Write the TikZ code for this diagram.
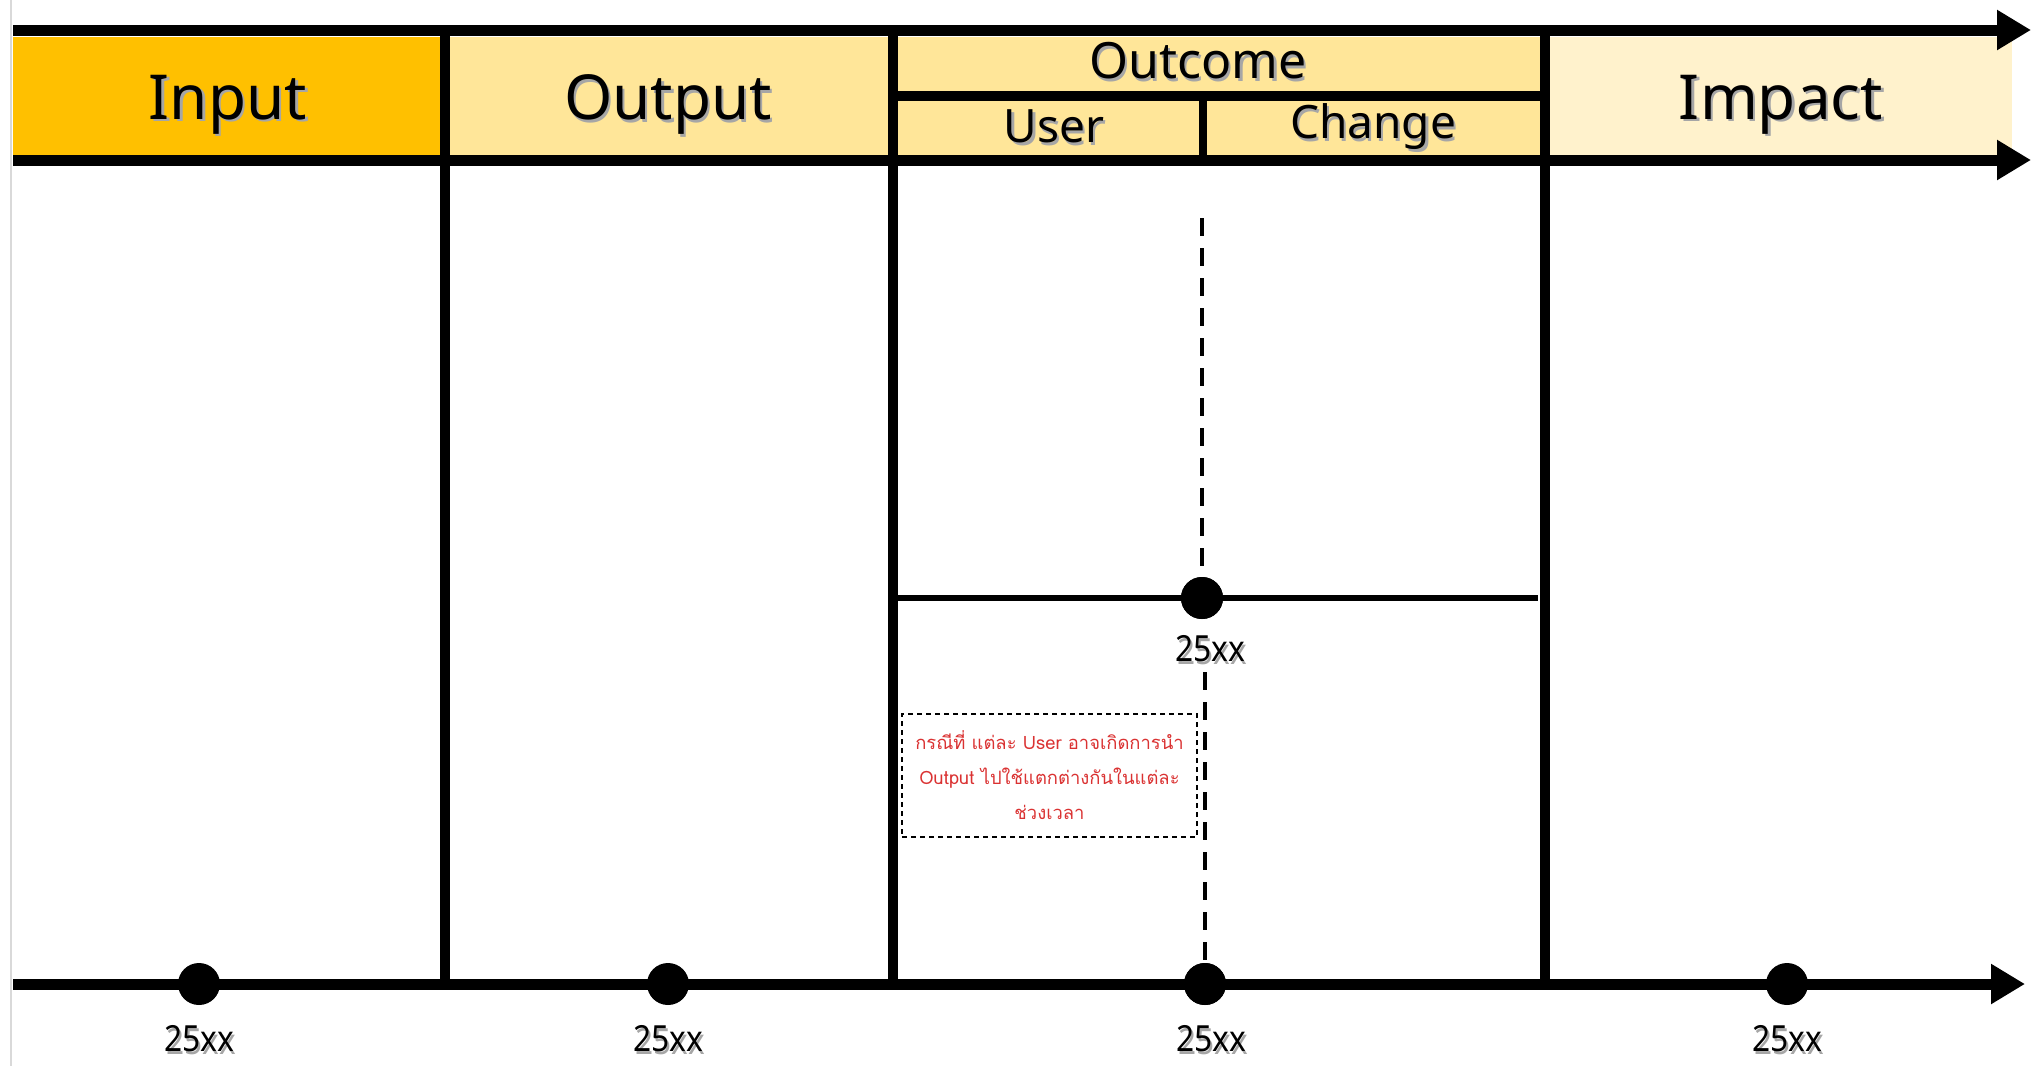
\documentclass[tikz,border=0pt]{standalone}
\usepackage{fontspec}
\setmainfont{Noto Sans}
\newfontfamily\thaifont[Script=Thai]{Loma}
\newfontfamily\yearfont{Noto Sans}[FakeStretch=0.88]
\usetikzlibrary{arrows.meta, positioning}
\definecolor{inputfill}{HTML}{FFC000}
\definecolor{outputfill}{HTML}{FFE699}
\definecolor{impactfill}{HTML}{FFF2CC}
\definecolor{notered}{RGB}{218,50,50}
\newcommand{\shadowed}[1]{\makebox[0pt][l]{\hspace{1.2pt}\raisebox{-1.2pt}{\textcolor{black!35}{#1}}}#1}

\begin{document}
\begin{tikzpicture}[x=0.5pt, y=-0.5pt,
    axisarrow/.style={line width=5.5pt, -{Triangle[length=17pt,width=19pt]}},
    divider/.style={line width=5pt},
    dashv/.style={line width=2.3pt, dash pattern=on 9pt off 6pt},
    dot/.style={circle, fill=black, inner sep=0pt, minimum size=21pt},
    year/.style={font=\yearfont\fontsize{18pt}{18pt}\selectfont, inner sep=0pt},
    headtxt/.style={font=\fontsize{31pt}{31pt}\selectfont, inner sep=0pt},
    subtxt/.style={font=\fontsize{23pt}{23pt}\selectfont, inner sep=0pt},
    note/.style={draw, dash pattern=on 2.5pt off 2pt, line width=0.6pt, text=notered,
        align=center, font=\thaifont\fontsize{9.2pt}{17.5pt}\selectfont,
        minimum width=147.5pt, minimum height=61.5pt, inner sep=0pt}]
    \useasboundingbox (0,0) rectangle (2035,1066);
    % page edge
    \draw[black!15, line width=0.6pt] (11,0) -- (11,1066);

    % header fills
    \fill[inputfill] (13,37) rectangle (445,155);
    \fill[outputfill] (445,37) rectangle (1545,155);
    \fill[impactfill] (1545,37) rectangle (2012,155);

    % header lines and time axis
    \draw[axisarrow] (13,30) -- (2031,30);
    \draw[axisarrow] (13,160) -- (2031,160);
    \draw[axisarrow] (13,984) -- (2025,984);
    \foreach \x in {445, 893, 1545}
        \draw[divider] (\x,30) -- (\x,984);
    \draw[divider] (893,96) -- (1545,96);
    \draw[line width=4pt] (1203,96) -- (1203,160);
    \draw[line width=3pt] (893,598) -- (1538,598);

    % header texts
    \node[headtxt] (input) at (228,106) {\shadowed{Input}};
    \node[headtxt] (output) at (668,106) {\shadowed{Output}};
    \node[subtxt, font=\fontsize{25pt}{25pt}\selectfont] (outcome) at (1198,62) {\shadowed{Outcome}};
    \node[subtxt] (user) at (1054,128) {\shadowed{User}};
    \node[subtxt] (change) at (1373,128) {\shadowed{Change}};
    \node[headtxt] (impact) at (1781,106) {\shadowed{Impact}};

    % dashed guide
    \coordinate (dtop) at (1202,218);
    \coordinate (dlow) at (1205,672);
    \node[dot] (ychange) at (1202,598) {};
    \node[dot] (yuse) at (1205,984) {};
    \draw[dashv] (dtop) -- (ychange);
    \draw[dashv] (dlow) -- (yuse);

    % time points
    \node[dot] (yin) at (199,984) {};
    \node[dot] (yout) at (668,984) {};
    \node[dot] (yimpact) at (1787,984) {};
    \node[dot] at (ychange) {};
    \node[dot] at (yuse) {};
    \node[year, below=8pt of ychange, xshift=4pt] (lchange) {\shadowed{25xx}};
    \node[year, below=10pt of yin] (lin) {\shadowed{25xx}};
    \node[year, below=10pt of yout] (lout) {\shadowed{25xx}};
    \node[year, below=10pt of yuse, xshift=3pt] (luse) {\shadowed{25xx}};
    \node[year, below=10pt of yimpact] (limpact) {\shadowed{25xx}};

    % note
    \node[note] (case) at (1049.5,775.5) {กรณีที่ แต่ละ User อาจเกิดการนำ\\Output ไปใช้แตกต่างกันในแต่ละ\\ช่วงเวลา};
\end{tikzpicture}
\end{document}
